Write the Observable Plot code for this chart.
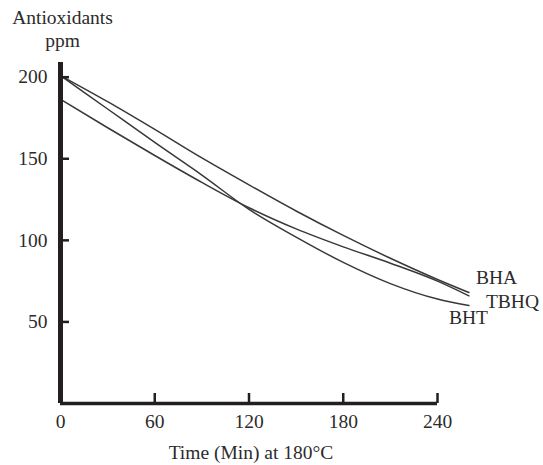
<!DOCTYPE html>
<html><head><meta charset="utf-8">
<script src="https://cdn.jsdelivr.net/npm/d3@7"></script>
<script src="https://cdn.jsdelivr.net/npm/@observablehq/plot@0.6"></script>
<style>body{margin:0;background:#fff}</style>
</head><body><div id="chart"></div>
<script>
const times = [0, 30, 60, 90, 120, 150, 180, 210, 240, 260];
const bha  = [201, 185, 168, 150.5, 134, 118, 103, 89, 76, 68];
const tbhq = [186.5, 169, 152, 135.5, 120, 107, 96, 86, 75, 66];
const bht  = [201, 180.5, 160, 140, 119, 102, 86.5, 73.5, 64, 60];
const seriesNames = ["BHA", "TBHQ", "BHT"];
const xTicks = [0, 60, 120, 180, 240];
const yTicks = [50, 100, 150, 200];
const yTitle = ["Antioxidants", "ppm"];
const xTitle = "Time (Min) at 180°C";

const seriesValues = [bha, tbhq, bht];
const data = seriesNames.flatMap((s, k) => times.map((t, i) => ({series: s, t, v: seriesValues[k][i]})));
const last = seriesNames.map((s, k) => ({series: s, t: times[times.length - 1], v: seriesValues[k][times.length - 1]}));

const ink = "#231f20";
const fs = 19.5;
const chart = Plot.plot({
  width: 543, height: 465,
  marginLeft: 60, marginRight: 106, marginTop: 62, marginBottom: 62,
  style: {fontFamily: "'Liberation Serif', serif", fontSize: fs + "px", color: "#2b2b2b", background: "#fff"},
  x: {domain: [0, 240]},
  y: {domain: [0, 209]},
  marks: [
    Plot.line(data, {x: "t", y: "v", z: "series", stroke: "#383838", strokeWidth: 1.5, curve: "monotone-x"}),
    Plot.ruleX([0], {stroke: ink, strokeWidth: 5}),
    Plot.ruleY([0], {stroke: ink, strokeWidth: 3.5}),
    Plot.axisX(xTicks, {tickSize: -10, tickPadding: 21, strokeWidth: 2.5, stroke: ink, label: null, fontSize: fs}),
    Plot.axisY(yTicks, {tickSize: -9, tickPadding: 22, strokeWidth: 2.5, stroke: ink, label: null, fontSize: fs}),
    Plot.text([yTitle[0]], {frameAnchor: "top-left", textAnchor: "middle", lineAnchor: "middle", dx: 2, dy: -45, fontSize: fs}),
    Plot.text([yTitle[1]], {frameAnchor: "top-left", textAnchor: "middle", lineAnchor: "middle", dx: 2, dy: -22, fontSize: fs}),
    Plot.text([xTitle], {frameAnchor: "bottom", lineAnchor: "middle", dx: 2, dy: 49, fontSize: fs}),
    Plot.text(last.filter(d => d.series === "BHA"), {x: "t", y: "v", text: "series", textAnchor: "start", lineAnchor: "middle", dx: 7, dy: -15, fontSize: fs}),
    Plot.text(last.filter(d => d.series === "TBHQ"), {x: "t", y: "v", text: "series", textAnchor: "start", lineAnchor: "middle", dx: 17, dy: 6, fontSize: fs}),
    Plot.text(last.filter(d => d.series === "BHT"), {x: "t", y: "v", text: "series", textAnchor: "start", lineAnchor: "middle", dx: -20, dy: 12, fontSize: fs})
  ]
});
document.getElementById("chart").append(chart);
</script>
</body></html>
